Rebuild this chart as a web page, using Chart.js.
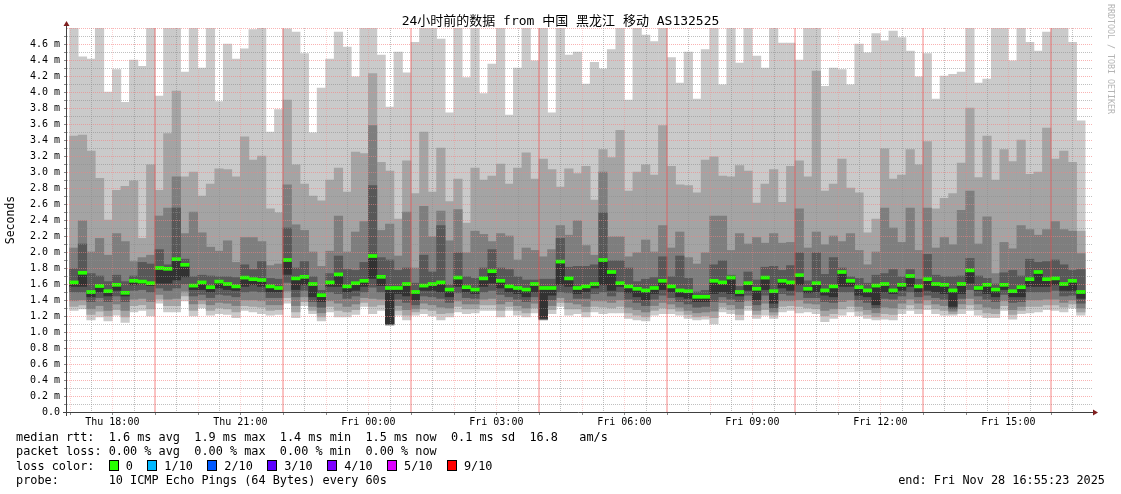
<!DOCTYPE html>
<html>
<head>
<meta charset="utf-8">
<title>smokeping AS132525</title>
<script src="https://cdn.jsdelivr.net/npm/chart.js@4.4.1/dist/chart.umd.min.js"></script>
<style>
  html, body { margin: 0; padding: 0; background: #fff; }
  #wrap { position: relative; width: 1121px; height: 494px; overflow: hidden; }
  #smoke { position: absolute; left: 0; top: 0; }
  .mono { position: absolute; font-family: "DejaVu Sans Mono", "Noto Sans CJK SC", monospace; white-space: pre; color: #000; }
  #title { left: 0; width: 1121px; top: 13px; font-size: 13px; line-height: 16px; text-align: center; }
  #legend { left: 16px; top: 430px; font-size: 11.85px; line-height: 14.4px; }
  #end { right: 16px; top: 473px; font-size: 11.85px; line-height: 14.4px; }
  #brand { position: absolute; left: 1106px; top: 4px; writing-mode: vertical-rl; font-family: "DejaVu Sans Mono", monospace;
           font-size: 8.3px; color: #b4b4b4; white-space: pre; }
  .box { display: inline-block; width: 8px; height: 9px; border: 1px solid #000; vertical-align: -1px; box-sizing: content-box; }
</style>
</head>
<body>
<div id="wrap">
  <canvas id="smoke" width="1121" height="494"></canvas>
  <div id="title" class="mono">24小时前的数据 from 中国 黑龙江 移动 AS132525</div>
  <div id="brand">RRDTOOL / TOBI OETIKER</div>
  <div id="legend" class="mono"><div>median rtt:  1.6 ms avg  1.9 ms max  1.4 ms min  1.5 ms now  0.1 ms sd  16.8   am/s</div><div>packet loss: 0.00 % avg  0.00 % max  0.00 % min  0.00 % now</div><div id="losscolors">loss color:  </div><div>probe:       10 ICMP Echo Pings (64 Bytes) every 60s</div></div>
  <div id="end" class="mono">end: Fri Nov 28 16:55:23 2025</div>
</div>
<script>
// === data: 10 sorted pings per 12 min step (ms), Thu 17:00 -> Fri 16:48 ===
const ping10 = [5.0,4.44,4.41,5.0,4.00,4.28,3.87,4.40,4.32,5.0,3.95,5.0,5.0,4.25,5.0,
  4.30,5.0,3.88,4.60,4.41,4.54,4.78,5.0,3.50,3.78,4.79,4.75,4.48,3.49,4.05,
  4.41,4.75,4.56,4.19,5.0,5.0,4.46,3.81,4.50,4.24,4.62,5.0,5.0,4.66,3.74,
  5.0,4.18,5.0,3.98,4.35,5.0,3.71,4.30,5.0,4.39,5.0,3.74,5.0,4.46,4.50,
  4.10,4.37,4.29,4.53,5.0,3.90,5.0,4.71,4.63,5.0,4.43,4.11,4.50,3.91,4.53,
  5.0,4.09,5.0,4.36,5.0,4.45,4.30,5.0,4.61,4.61,4.40,5.0,5.0,4.07,4.30,4.28,
  4.09,4.60,4.49,4.73,4.64,4.76,4.68,4.51,4.19,4.48,3.91,4.20,4.22,4.25,5.0,
  4.11,4.16,5.0,5.0,4.39,5.0,4.62,4.51,4.75,5.0,5.0,4.62,3.64];
const ping9 = [3.45,3.46,3.26,2.92,2.40,2.77,2.82,2.89,2.17,3.09,2.77,3.48,4.01,2.94,3.00,
  2.70,2.85,3.04,3.03,2.94,3.44,3.15,3.20,2.54,2.49,3.90,3.09,2.85,2.70,2.64,
  2.90,3.05,2.75,3.25,3.23,4.23,3.12,3.01,2.41,3.14,2.73,3.50,2.75,3.30,2.63,
  2.91,2.36,3.05,2.90,2.95,3.10,2.85,3.05,3.24,2.91,3.16,3.03,2.81,3.04,2.98,
  3.07,2.65,3.28,3.18,3.52,2.76,3.00,3.09,2.96,3.58,3.07,2.84,2.83,2.74,3.15,
  3.19,2.95,2.94,3.08,3.01,2.61,2.85,3.03,2.62,3.07,3.14,2.94,4.26,2.76,2.85,3.16,
  2.80,2.74,2.24,2.41,3.29,2.91,2.96,3.28,3.09,3.38,2.54,2.67,2.73,3.11,3.80,
  2.93,3.45,2.90,3.28,3.13,3.40,2.97,3.00,3.55,3.16,3.26,3.12,2.26];
const ping8 = [2.05,2.39,2.00,2.17,1.96,2.23,2.13,1.88,1.93,1.96,2.45,2.55,2.94,2.23,2.50,
  2.24,2.06,2.01,2.14,1.87,2.18,2.18,2.13,1.83,1.85,2.84,2.34,2.27,2.00,1.82,
  2.01,2.45,2.00,2.25,2.38,3.58,2.27,2.35,1.95,2.50,1.80,2.57,2.19,2.51,2.14,
  2.53,1.99,2.26,2.22,2.13,2.23,2.20,1.90,2.05,2.02,1.94,2.03,2.33,2.21,2.39,
  2.08,1.96,3.00,2.19,2.19,1.94,1.99,2.15,2.00,2.33,2.05,2.25,1.93,1.85,1.99,
  2.45,2.45,2.02,2.23,2.10,2.18,2.11,2.23,2.11,2.12,2.54,2.05,2.25,2.09,2.20,2.13,
  2.23,2.02,1.84,2.00,2.55,2.30,2.12,2.55,2.02,2.55,2.05,2.18,2.09,2.52,2.76,
  2.10,2.44,1.73,2.12,2.04,2.33,2.28,2.21,2.28,2.38,2.28,2.26,1.98];
const ping7 = [1.79,2.10,1.73,1.70,1.63,1.71,1.63,1.70,1.87,1.85,2.03,1.84,2.55,1.91,1.69,
  1.71,1.70,1.69,1.69,1.68,1.84,1.78,1.88,1.67,1.66,2.30,1.80,1.88,1.69,1.52,
  1.73,1.95,1.78,1.77,1.87,2.83,1.93,1.90,1.77,1.80,1.61,1.96,1.75,2.33,1.59,
  1.99,1.69,1.67,1.80,2.03,1.80,1.78,1.69,1.65,1.65,1.66,1.66,2.17,1.81,1.82,
  1.82,1.84,2.49,1.89,1.89,1.80,1.63,1.66,1.68,1.94,1.69,1.95,1.67,1.50,1.52,
  1.84,1.89,1.71,1.57,1.75,1.65,1.81,1.82,1.77,1.83,1.99,1.64,1.99,1.72,1.93,1.80,
  1.69,1.67,1.61,1.71,1.73,1.78,1.69,1.78,1.66,1.97,1.71,1.69,1.69,1.70,1.92,
  1.70,1.67,1.60,1.74,1.77,1.70,1.91,1.87,1.88,1.90,1.84,1.77,1.78];
// ping6 is the median that smokeping draws in the loss colour
const ping6 = [1.62,1.74,1.50,1.575,1.51,1.59,1.49,1.64,1.63,1.61,1.80,1.79,1.91,1.84,1.58,
  1.62,1.56,1.63,1.60,1.57,1.68,1.66,1.65,1.57,1.55,1.90,1.67,1.69,1.60,1.46,
  1.62,1.72,1.57,1.61,1.64,1.95,1.69,1.55,1.55,1.60,1.50,1.58,1.60,1.62,1.53,
  1.68,1.56,1.53,1.67,1.76,1.64,1.57,1.55,1.53,1.60,1.55,1.55,1.88,1.67,1.55,
  1.57,1.60,1.90,1.75,1.61,1.57,1.54,1.52,1.55,1.64,1.57,1.52,1.51,1.44,1.44,
  1.64,1.62,1.68,1.50,1.61,1.54,1.68,1.51,1.64,1.62,1.71,1.54,1.61,1.52,1.57,1.75,
  1.64,1.56,1.52,1.58,1.60,1.52,1.59,1.70,1.57,1.66,1.60,1.59,1.52,1.60,1.77,
  1.55,1.59,1.53,1.59,1.51,1.56,1.66,1.75,1.66,1.67,1.60,1.64,1.50];
const ping5 = [1.57,1.57,1.44,1.50,1.45,1.52,1.45,1.59,1.60,1.58,1.61,1.61,1.65,1.69,1.53,
  1.53,1.50,1.55,1.53,1.52,1.57,1.59,1.57,1.50,1.50,1.72,1.53,1.59,1.44,1.38,
  1.57,1.57,1.50,1.52,1.57,1.67,1.58,1.10,1.48,1.45,1.40,1.52,1.52,1.50,1.44,
  1.57,1.50,1.48,1.57,1.61,1.55,1.50,1.48,1.44,1.50,1.17,1.46,1.59,1.57,1.48,
  1.50,1.55,1.59,1.52,1.57,1.49,1.44,1.40,1.48,1.53,1.50,1.44,1.42,1.38,1.38,
  1.48,1.50,1.48,1.45,1.52,1.40,1.53,1.36,1.55,1.52,1.59,1.49,1.50,1.46,1.44,1.57,
  1.57,1.46,1.44,1.34,1.50,1.48,1.52,1.57,1.50,1.52,1.50,1.48,1.32,1.48,1.61,
  1.52,1.48,1.44,1.53,1.44,1.44,1.57,1.57,1.57,1.59,1.52,1.52,1.42];
const ping4 = [1.50,1.50,1.38,1.43,1.38,1.45,1.38,1.52,1.53,1.50,1.55,1.52,1.55,1.60,1.45,
  1.47,1.43,1.47,1.46,1.44,1.50,1.51,1.50,1.43,1.43,1.62,1.44,1.52,1.38,1.31,
  1.50,1.48,1.42,1.45,1.50,1.56,1.50,1.10,1.41,1.37,1.34,1.45,1.44,1.42,1.37,
  1.49,1.43,1.42,1.50,1.52,1.47,1.44,1.41,1.38,1.44,1.16,1.40,1.50,1.49,1.42,
  1.42,1.48,1.50,1.45,1.50,1.41,1.37,1.33,1.41,1.46,1.43,1.38,1.35,1.31,1.32,
  1.38,1.44,1.41,1.38,1.46,1.34,1.46,1.30,1.48,1.46,1.50,1.43,1.43,1.38,1.37,1.50,
  1.50,1.40,1.37,1.30,1.42,1.41,1.45,1.50,1.44,1.46,1.43,1.41,1.29,1.42,1.53,
  1.45,1.41,1.38,1.47,1.37,1.38,1.50,1.50,1.50,1.52,1.45,1.46,1.36];
const ping3 = [1.39,1.40,1.29,1.33,1.27,1.35,1.27,1.41,1.42,1.38,1.47,1.41,1.42,1.51,1.35,
  1.40,1.34,1.37,1.36,1.33,1.40,1.40,1.39,1.34,1.34,1.51,1.33,1.44,1.32,1.24,
  1.39,1.36,1.32,1.35,1.43,1.42,1.41,1.09,1.33,1.28,1.29,1.36,1.34,1.31,1.30,
  1.39,1.35,1.35,1.41,1.42,1.35,1.38,1.33,1.30,1.36,1.16,1.33,1.43,1.37,1.35,
  1.32,1.39,1.39,1.37,1.40,1.31,1.28,1.25,1.33,1.37,1.35,1.31,1.27,1.24,1.25,
  1.26,1.37,1.34,1.29,1.39,1.27,1.36,1.25,1.39,1.39,1.40,1.36,1.35,1.27,1.29,1.38,
  1.40,1.32,1.28,1.24,1.31,1.30,1.36,1.41,1.36,1.40,1.35,1.33,1.26,1.35,1.42,
  1.35,1.31,1.29,1.39,1.28,1.32,1.40,1.40,1.41,1.41,1.37,1.40,1.30];
const ping2 = [1.32,1.34,1.22,1.26,1.20,1.28,1.19,1.33,1.34,1.29,1.41,1.33,1.33,1.45,1.27,
  1.35,1.27,1.30,1.29,1.25,1.33,1.32,1.31,1.27,1.28,1.43,1.25,1.38,1.27,1.19,
  1.32,1.27,1.25,1.28,1.37,1.32,1.34,1.09,1.27,1.21,1.25,1.29,1.27,1.23,1.24,
  1.32,1.29,1.29,1.34,1.34,1.27,1.32,1.27,1.24,1.30,1.15,1.28,1.37,1.29,1.29,
  1.25,1.32,1.31,1.30,1.32,1.24,1.21,1.19,1.27,1.30,1.29,1.26,1.22,1.19,1.20,
  1.18,1.31,1.28,1.22,1.33,1.22,1.28,1.21,1.32,1.33,1.32,1.30,1.29,1.20,1.23,1.29,
  1.32,1.26,1.22,1.19,1.23,1.22,1.29,1.34,1.29,1.34,1.29,1.27,1.23,1.29,1.34,
  1.28,1.24,1.23,1.33,1.22,1.27,1.32,1.32,1.34,1.34,1.31,1.35,1.25];
const ping1 = [1.27,1.29,1.15,1.19,1.14,1.21,1.12,1.25,1.27,1.20,1.36,1.25,1.25,1.39,1.20,
  1.30,1.21,1.23,1.22,1.18,1.27,1.25,1.23,1.21,1.22,1.36,1.18,1.33,1.23,1.14,
  1.25,1.19,1.19,1.22,1.32,1.23,1.27,1.09,1.21,1.15,1.21,1.23,1.20,1.15,1.19,
  1.25,1.23,1.24,1.27,1.27,1.19,1.27,1.21,1.19,1.24,1.15,1.23,1.32,1.21,1.23,
  1.19,1.25,1.23,1.24,1.24,1.17,1.15,1.14,1.21,1.23,1.23,1.21,1.17,1.15,1.16,
  1.10,1.25,1.23,1.15,1.27,1.17,1.21,1.17,1.25,1.27,1.24,1.25,1.23,1.13,1.17,1.21,
  1.25,1.20,1.17,1.15,1.16,1.15,1.23,1.27,1.23,1.28,1.23,1.21,1.21,1.23,1.27,
  1.21,1.18,1.18,1.27,1.16,1.23,1.24,1.25,1.28,1.27,1.25,1.30,1.21];

// x axis: hours counted from Thu 00:00
const firstStepHour = 17;
const stepHours = 12 / 60;
const axisStart = 16 + 56 / 60 + 15 / 3600;
const axisEnd = axisStart + 24;
const labelHours = [18, 21, 24, 27, 30, 33, 36, 39];
const labelTexts = ['Thu 18:00', 'Thu 21:00', 'Fri 00:00', 'Fri 03:00', 'Fri 06:00', 'Fri 09:00', 'Fri 12:00', 'Fri 15:00'];
const majorHours = [19, 22, 25, 28, 31, 34, 37, 40];

// legend
const lossLabels = ['0', '1/10', '2/10', '3/10', '4/10', '5/10', '9/10'];
const lossColors = ['#26ff00', '#00b8ff', '#0059ff', '#5e00ff', '#7e00ff', '#dd00ff', '#ff0000'];

const smokeColors = ['#cacaca', '#a4a4a4', '#7e7e7e', '#585858', '#323232'];
const MONO = "'DejaVu Sans Mono', monospace";
const GRID = 'rgba(140,140,140,0.55)';
const MGRID = 'rgba(245,128,128,0.6)';
const MGRID_V = 'rgba(245,128,128,0.35)';
const MGRID_3H = 'rgba(240,70,70,0.33)';

// legend boxes
const lossRow = document.getElementById('losscolors');
lossLabels.forEach((lbl, i) => {
  const b = document.createElement('span');
  b.className = 'box';
  b.style.background = lossColors[i];
  lossRow.appendChild(b);
  lossRow.appendChild(document.createTextNode(' ' + lbl + (i < lossLabels.length - 1 ? '  ' : '')));
});

const stepX = ping6.map((_, i) => firstStepHour + stepHours * (i + 0.5));

function band(lows, highs, color, order) {
  return {
    data: stepX.map((x, i) => ({ x, y: [lows[i], highs[i]] })),
    backgroundColor: color,
    borderWidth: 0,
    grouped: false,
    barPercentage: 1,
    categoryPercentage: 1,
    order
  };
}

const datasets = [
  band(ping1, ping10, smokeColors[0], 10),
  band(ping2, ping9, smokeColors[1], 9),
  band(ping3, ping8, smokeColors[2], 8),
  band(ping4, ping7, smokeColors[3], 7),
  band(ping5, ping6, smokeColors[4], 6),
  {
    // the median drawn as a thin bar, like smokeping's loss coloured area
    data: stepX.map((x, i) => ({ x, y: [ping6[i] - 0.019, ping6[i] + 0.019] })),
    backgroundColor: lossColors[0],
    borderWidth: 0,
    grouped: false,
    barPercentage: 1,
    categoryPercentage: 1,
    order: 1
  }
];

// rrdtool style grid (on top of the smoke), axes and arrows
const rrdFrame = {
  id: 'rrdFrame',
  beforeDraw(chart) {
    const c = chart.ctx;
    c.save();
    c.fillStyle = '#fff';
    c.fillRect(0, 0, chart.width, chart.height);
    c.restore();
  },
  afterDatasetsDraw(chart) {
    const { ctx: c, chartArea: a, scales: { x, y } } = chart;
    const line = (x1, y1, x2, y2, color) => {
      c.strokeStyle = color;
      c.beginPath();
      c.moveTo(x1, y1);
      c.lineTo(x2, y2);
      c.stroke();
    };
    c.save();
    c.lineWidth = 1;
    c.setLineDash([1, 1]);
    for (let i = 1; i <= 48; i++) {
      const py = Math.round(y.getPixelForValue(i / 10)) + 0.5;
      line(a.left, py, a.right + 2, py, i % 2 ? GRID : MGRID);
    }
    for (let k = 0; 17 + k / 2 < axisEnd; k++) {
      const h = 17 + k / 2;
      if (majorHours.includes(h)) continue;
      const px = Math.round(x.getPixelForValue(h)) + 0.5;
      line(px, a.top, px, a.bottom, k % 2 ? GRID : MGRID_V);
    }
    // every third hour the major line shows up solid, two pixels wide
    c.setLineDash([]);
    c.fillStyle = MGRID_3H;
    majorHours.forEach(h => {
      const px = Math.round(x.getPixelForValue(h));
      c.fillRect(px - 1, a.top, 2, a.bottom - a.top);
    });
    // small ticks
    for (let i = 0; i <= 47; i++) {
      const py = Math.round(y.getPixelForValue(i / 10)) + 0.5;
      line(a.left - 3, py, a.left, py, '#888');
    }
    for (let h = 17; h < axisEnd; h += 1) {
      const px = Math.round(x.getPixelForValue(h)) + 0.5;
      line(px, a.bottom, px, a.bottom + 3, '#888');
    }
    // axes
    const ax = a.left - 0.5, ay = a.bottom + 0.5;
    line(ax, a.bottom + 4, ax, a.top - 4, '#404040');
    line(a.left - 4, ay, a.right + 3, ay, '#404040');
    c.fillStyle = '#801f1f';
    c.beginPath();
    c.moveTo(ax - 3, a.top - 2);
    c.lineTo(ax + 3, a.top - 2);
    c.lineTo(ax, a.top - 7);
    c.closePath();
    c.fill();
    c.beginPath();
    c.moveTo(a.right + 2, ay - 3);
    c.lineTo(a.right + 2, ay + 3);
    c.lineTo(a.right + 7, ay);
    c.closePath();
    c.fill();
    c.restore();
  }
};

new Chart(document.getElementById('smoke'), {
  type: 'bar',
  data: { datasets },
  plugins: [rrdFrame],
  options: {
    responsive: false,
    animation: false,
    devicePixelRatio: 1,
    layout: { padding: { left: 0, top: 28, right: 30, bottom: 62 } },
    plugins: { legend: { display: false }, tooltip: { enabled: false }, title: { display: false } },
    scales: {
      x: {
        type: 'linear',
        offset: false,
        min: axisStart,
        max: axisEnd,
        grid: { display: false, drawTicks: false, offset: false },
        border: { display: false },
        afterBuildTicks: (scale) => { scale.ticks = labelHours.map(v => ({ value: v })); },
        afterFit: (scale) => { scale.height = 20; },
        ticks: {
          autoSkip: false,
          maxRotation: 0,
          padding: 4,
          color: '#000',
          font: { family: MONO, size: 10 },
          callback: (v) => labelTexts[labelHours.indexOf(v)] || ''
        }
      },
      y: {
        min: 0,
        max: 4.8,
        grid: { display: false, drawTicks: false },
        border: { display: false },
        afterFit: (scale) => { scale.width = 67; },
        title: { display: true, text: 'Seconds', color: '#000', font: { family: MONO, size: 11.5 }, padding: { top: 4, bottom: 0 } },
        ticks: {
          stepSize: 0.2,
          autoSkip: false,
          padding: 7,
          color: '#000',
          font: { family: MONO, size: 10 },
          callback: (v) => v > 4.7 ? '' : (v < 0.01 ? '0.0' : v.toFixed(1) + ' m')
        }
      }
    }
  }
});
</script>
</body>
</html>
